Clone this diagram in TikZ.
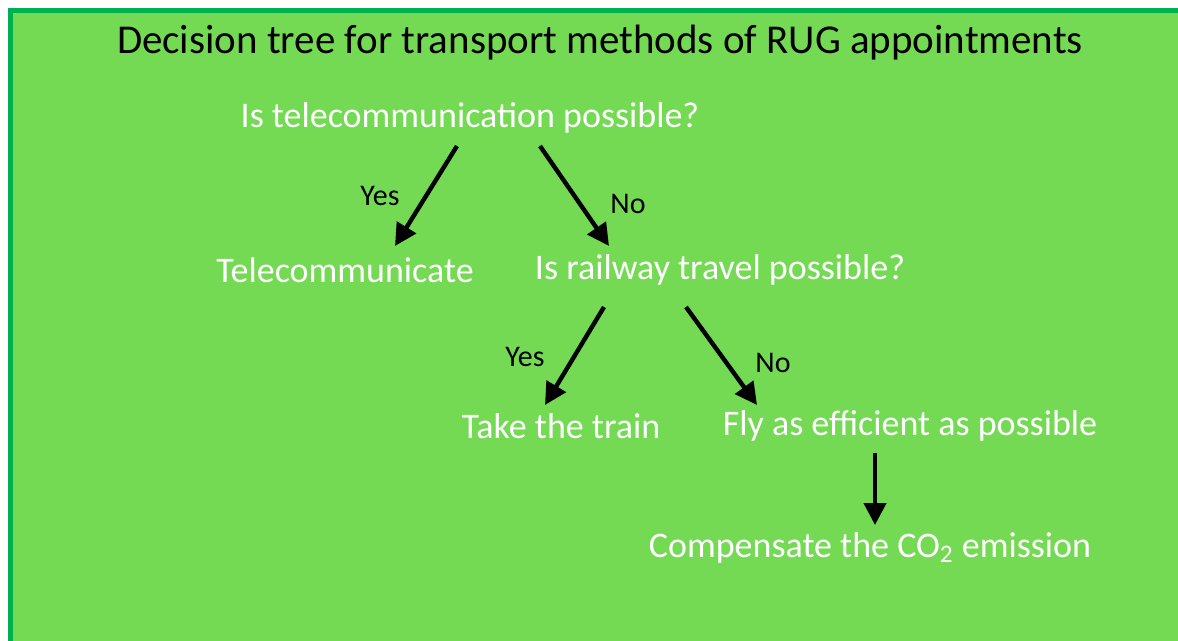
\documentclass[tikz,border=0pt]{standalone}
\usepackage{fontspec}
\setmainfont{Carlito}
\usepackage{xcolor}
\usetikzlibrary{arrows.meta, calc}

\definecolor{panelgreen}{HTML}{74DA54}
\definecolor{framegreen}{HTML}{00B050}

\begin{document}
\begin{tikzpicture}[x=0.5pt, y=-0.5pt,
    question/.style={text=white, font=\fontsize{18}{21}\selectfont, inner sep=0pt},
    answer/.style={text=black, font=\fontsize{15}{17}\selectfont, inner sep=0pt},
    branch/.style={line width=2.2pt, -{Triangle[length=11pt, width=11pt]}}]
    \useasboundingbox (0,0) rectangle (1178,641);

    % Background panel
    \draw[framegreen, line width=2.5pt, fill=panelgreen] (10,11) rectangle (1200,670);

    % Title
    \node[font=\fontsize{20.5}{24}\selectfont, inner sep=0pt] (title) at (600,43) {Decision tree for transport methods of RUG appointments};

    % Questions and outcomes
    \node[question] (tele) at (470,118) {Is telecommunication possible?};
    \node[question] (telecom) at (345,270) {Telecommunicate};
    \node[question] (rail) at (720,270) {Is railway travel possible?};
    \node[question] (train) at (561,426) {Take the train};
    \node[question] (fly) at (910,426) {Fly as efficient as possible};
    \node[question] (comp) at (870,548) {Compensate the CO\textsubscript{2} emission};

    % Branch labels
    \node[answer] (yes1) at (380,196) {Yes};
    \node[answer] (no1) at (628,204) {No};
    \node[answer] (yes2) at (525,357) {Yes};
    \node[answer] (no2) at (773,363) {No};

    % Branches
    \draw[branch] ($(tele)+(-13,28)$) -- ($(telecom)+(50,-24)$);
    \draw[branch] ($(tele)+(70,28)$) -- ($(rail)+(-111,-24)$);
    \draw[branch] ($(rail)+(-116,37)$) -- ($(train)+(-16,-21)$);
    \draw[branch] ($(rail)+(-34,37)$) -- ($(fly)+(-153,-21)$);
    \draw[branch] ($(fly)+(-35,27)$) -- ($(comp)+(5,-23)$);
\end{tikzpicture}
\end{document}
